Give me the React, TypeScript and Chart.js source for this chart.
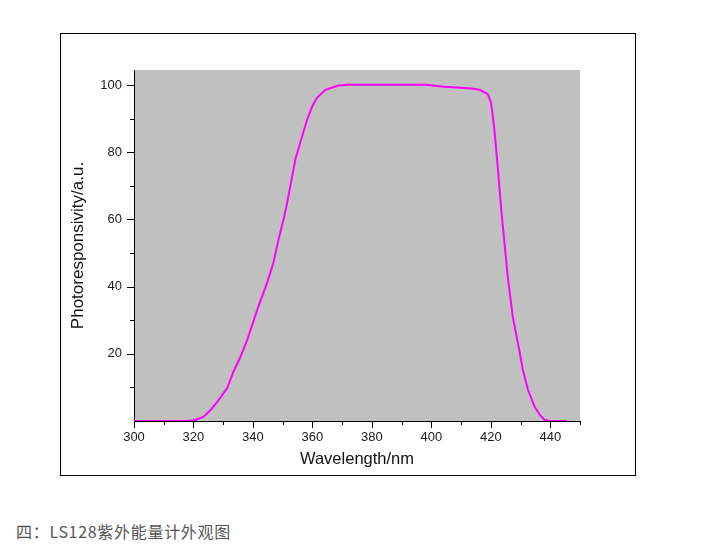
import React, { useEffect, useRef } from "react";
import { Chart, registerables } from "chart.js";

Chart.register(...registerables);

const WAVELENGTHS = [300, 310, 318, 320.6, 323.3, 326, 328, 331.4, 333.4, 335.8, 338.1, 339.8, 341.8, 344.9, 346.9, 348.6, 350.3, 351.5, 354.3, 356.6, 358.3, 360, 361.6, 364.4, 368.4, 371.7, 380, 390, 398.2, 404.3, 410, 413.4, 416.3, 419, 420.1, 421.2, 422.4, 423.5, 424.6, 425.7, 427.4, 429.1, 430.8, 432.5, 434.7, 436.5, 438.1, 440, 445.4];
const RESPONSE = [0, 0, 0, 0.3, 1.2, 3.5, 5.7, 9.9, 14.6, 19.1, 24.2, 28.7, 34, 41.5, 47.2, 54, 60, 65, 78, 84.9, 89.9, 93.8, 96.3, 98.6, 99.8, 100.1, 100.1, 100.1, 100.1, 99.5, 99.2, 99, 98.6, 97.3, 94.8, 86.9, 74.9, 63, 53, 43, 31, 23.3, 15.2, 9.3, 4.3, 1.8, 0.3, 0, 0];
const X_LABEL_TICKS = [300, 320, 340, 360, 380, 400, 420, 440];
const X_ALL_TICKS = [300, 310, 320, 330, 340, 350, 360, 370, 380, 390, 400, 410, 420, 430, 440, 450];
const Y_LABEL_TICKS = [20, 40, 60, 80, 100];
const Y_ALL_TICKS = [10, 20, 30, 40, 50, 60, 70, 80, 90, 100];
const X_TITLE = "Wavelength/nm";
const Y_TITLE = "Photoresponsivity/a.u.";
const CAPTION = "四：LS128紫外能量计外观图";

const bgPlugin = {
  id: "plotBg",
  beforeDraw(chart: any) {
    const { ctx, chartArea } = chart;
    ctx.save();
    ctx.fillStyle = "#c0c0c0";
    ctx.fillRect(chartArea.left, chartArea.top, chartArea.right - chartArea.left, chartArea.bottom - chartArea.top);
    ctx.restore();
  },
  afterDraw(chart: any) {
    const { ctx, chartArea } = chart;
    const xs = chart.scales.x;
    const ys = chart.scales.y;
    ctx.save();
    ctx.strokeStyle = "#000";
    ctx.lineWidth = 1;
    ctx.beginPath();
    X_ALL_TICKS.forEach((v) => {
      const px = Math.round(xs.getPixelForValue(v)) + 0.5;
      const len = v % 20 === 0 ? 7 : 4;
      ctx.moveTo(px, chartArea.bottom);
      ctx.lineTo(px, chartArea.bottom + len);
    });
    Y_ALL_TICKS.forEach((v) => {
      const py = Math.round(ys.getPixelForValue(v)) + 0.5;
      const len = v % 20 === 0 ? 7 : 4;
      ctx.moveTo(chartArea.left, py);
      ctx.lineTo(chartArea.left - len, py);
    });
    ctx.stroke();
    ctx.restore();
  },
};

export default function App() {
  const ref = useRef<HTMLCanvasElement | null>(null);
  useEffect(() => {
    if (!ref.current) return;
    const chart = new Chart(ref.current, {
      type: "line",
      data: {
        datasets: [
          {
            data: WAVELENGTHS.map((x, i) => ({ x, y: RESPONSE[i] })),
            borderColor: "#ff00ff",
            borderWidth: 2,
            pointRadius: 0,
            tension: 0,
            fill: false,
          },
        ],
      },
      options: {
        animation: false,
        responsive: false,
        maintainAspectRatio: false,
        layout: { padding: { top: 37, right: 56, bottom: 0, left: 0 } },
        plugins: { legend: { display: false }, tooltip: { enabled: false } },
        scales: {
          x: {
            type: "linear",
            min: 300,
            max: 450,
            afterFit: (s: any) => { s.height = 55; },
            afterBuildTicks: (s: any) => { s.ticks = X_LABEL_TICKS.map((v) => ({ value: v })); },
            grid: { display: false, drawTicks: false },
            border: { display: true, color: "#000", width: 1 },
            ticks: { padding: 9, color: "#1a1a1a", font: { family: "Liberation Sans", size: 13 }, maxRotation: 0 },
            title: { display: true, text: X_TITLE, color: "#111", font: { family: "Liberation Sans", size: 16.5 }, padding: { top: 0, bottom: 7 } },
          },
          y: {
            type: "linear",
            min: 0,
            max: 104.5,
            afterFit: (s: any) => { s.width = 74; },
            afterBuildTicks: (s: any) => { s.ticks = Y_LABEL_TICKS.map((v) => ({ value: v })); },
            grid: { display: false, drawTicks: false },
            border: { display: true, color: "#000", width: 1 },
            ticks: { padding: 12, color: "#1a1a1a", font: { family: "Liberation Sans", size: 13 } },
            title: { display: true, text: Y_TITLE, color: "#111", font: { family: "Liberation Sans", size: 17 }, padding: { top: 8, bottom: 0 } },
          },
        },
      },
      plugins: [bgPlugin],
    } as any);
    return () => chart.destroy();
  }, []);

  return (
    <div>
      <div style={{ position: "absolute", left: 60, top: 33, width: 576, height: 443, border: "1px solid #000", boxSizing: "border-box" }} />
      <canvas ref={ref} width={576} height={443} style={{ position: "absolute", left: 60, top: 33, width: 576, height: 443 }} />
      <div style={{ position: "absolute", left: 16, top: 521, fontFamily: "'Noto Sans CJK SC', sans-serif", fontSize: 16, lineHeight: "20px", letterSpacing: "0.7px", color: "#555", whiteSpace: "nowrap" }}>{CAPTION}</div>
    </div>
  );
}
